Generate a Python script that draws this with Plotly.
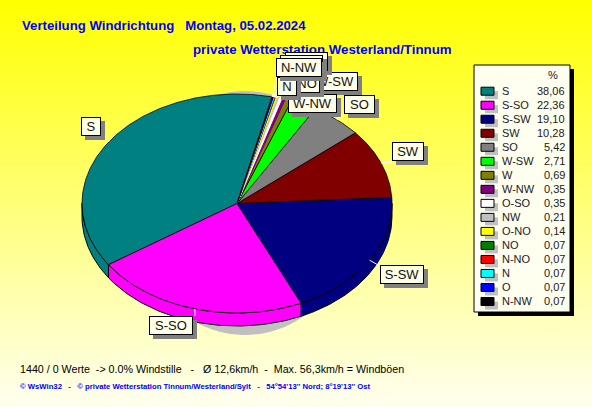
import numpy as np
import plotly.graph_objects as go

directions = ["S", "S-SO", "S-SW", "SW", "SO", "W-SW", "W", "W-NW", "O-SO", "NW", "O-NO", "NO", "N-NO", "N", "O", "N-NW"]
shares = [38.06, 22.36, 19.10, 10.28, 5.42, 2.71, 0.69, 0.35, 0.35, 0.21, 0.14, 0.07, 0.07, 0.07, 0.07, 0.07]
share_labels = ["38,06", "22,36", "19,10", "10,28", "5,42", "2,71", "0,69", "0,35", "0,35", "0,21", "0,14", "0,07", "0,07", "0,07", "0,07", "0,07"]
colors = ["#008080", "#FF00FF", "#000080", "#800000", "#808080", "#00FF00", "#808000", "#800080",
          "#FFFFFF", "#C0C0C0", "#FFFF00", "#008000", "#FF0000", "#00FFFF", "#0000FF", "#000000"]

# label boxes: left, top, width (pixels of the page)
label_boxes = {
    "S": (81, 117, 20), "S-SO": (149, 316, 44), "S-SW": (380, 265, 44), "SW": (392, 142, 32),
    "SO": (344, 95, 31), "W-SW": (312, 72, 46), "W": (297, 74, 20), "W-NW": (288, 94, 49),
    "O-SO": (285, 52, 43), "NW": (296, 58, 24), "O-NO": (280, 55, 43), "NO": (294, 74, 26),
    "N-NO": (284, 58, 38), "N": (277, 77, 20), "O": (290, 58, 20), "N-NW": (276, 58, 46),
}
label_anchor = {
    "S": (104, 138), "S-SO": (195, 316), "S-SW": (378, 265), "SW": (392, 162), "SO": (345, 113),
    "W-SW": (330, 90), "W": (310, 92), "W-NW": (288, 100), "O-SO": (300, 70), "NW": (300, 75),
    "O-NO": (290, 72), "NO": (296, 90), "N-NO": (285, 75), "N": (277, 90), "O": (290, 76), "N-NW": (277, 76),
}

CX, CY, RX, RY, DEPTH = 237, 203.5, 155, 109.5, 13
START = 77.0
W, H = 592, 407

fig = go.Figure()

# page background
fig.add_trace(go.Scatter(
    x=[0, W, W, 0, 0], y=[0, 0, H, H, 0], mode="none", fill="toself",
    fillgradient=dict(type="vertical", colorscale=[[0, "#FFFFF0"], [1, "#FFFF00"]]),
    hoverinfo="skip", showlegend=False))


def ell(a, r=1.0, dy=0.0):
    t = np.radians(a)
    return CX + RX * r * np.cos(t), CY + dy - RY * r * np.sin(t)


# drop shadow of the pie
t = np.linspace(0, 2 * np.pi, 241)
fig.add_trace(go.Scatter(x=245 + 110 * np.cos(t), y=213 + 122 * np.sin(t), mode="none", fill="toself",
                         fillcolor="#C0C0C0", hoverinfo="skip", showlegend=False))

spans = np.array(shares) / sum(shares) * 360
starts = START + np.concatenate([[0], np.cumsum(spans)[:-1]])

# side wall (only the front half of the disc)
for a0, sp, c in zip(starts, spans, colors):
    lo, hi = max(a0, 180), min(a0 + sp, 360)
    if hi <= lo:
        continue
    a = np.linspace(lo, hi, 80)
    x1, y1 = ell(a)
    x2, y2 = ell(a[::-1], dy=DEPTH)
    fig.add_trace(go.Scatter(x=np.r_[x1, x2, x1[0]], y=np.r_[y1, y2, y1[0]], mode="lines", fill="toself",
                             fillcolor=c, line=dict(color="black", width=1), hoverinfo="skip", showlegend=False))

# top surface; the very thin slices keep their own colour on the edge
for a0, sp, c in zip(starts, spans, colors):
    a = np.linspace(a0, a0 + sp, max(3, int(sp * 2)))
    x, y = ell(a)
    edge = dict(color="black", width=0.8) if sp > 2 else dict(color=c, width=1)
    fig.add_trace(go.Scatter(x=np.r_[CX, x, CX], y=np.r_[CY, y, CY], mode="lines", fill="toself",
                             fillcolor=c, line=edge, hoverinfo="skip", showlegend=False))

# leader lines from each slice to its label
for name, a0, sp in zip(directions, starts, spans):
    ex, ey = ell(a0 + sp / 2)
    ax, ay = label_anchor[name]
    fig.add_trace(go.Scatter(x=[ex, ax], y=[ey, ay], mode="lines", line=dict(color="white", width=1),
                             hoverinfo="skip", showlegend=False))

shapes = []
annotations = []


def text(x, y, s, size, color="black", bold=False, anchor="left", family="Liberation Sans"):
    annotations.append(dict(x=x, y=y, xref="x", yref="y", text=f"<b>{s}</b>" if bold else s, showarrow=False,
                            xanchor=anchor, yanchor="middle", align=anchor,
                            font=dict(family=family, size=size, color=color)))


def rect(x0, y0, x1, y1, fill, line=None):
    shapes.append(dict(type="rect", xref="x", yref="y", x0=x0, y0=y0, x1=x1, y1=y1, fillcolor=fill, layer="above",
                       line=dict(color=line or fill, width=1 if line else 0)))


# titles
text(20, 25, "Verteilung Windrichtung &nbsp; Montag, 05.02.2024", 13.2, "#0000FF", True)
text(191, 49, "private Wetterstation Westerland/Tinnum", 13.3, "#0000FF", True)

# slice labels: each a shadow box, then a cream box, in slice order
for name in directions:
    l, tp, w = label_boxes[name]
    annotations.append(dict(x=l + 4, y=tp + 4, xref="x", yref="y", text=" ", showarrow=False, xanchor="left",
                            yanchor="top", width=w, height=19, bgcolor="#808080", borderpad=0, borderwidth=0,
                            font=dict(size=10)))
    annotations.append(dict(x=l, y=tp, xref="x", yref="y", text=name, showarrow=False, xanchor="left", yanchor="top",
                            width=w - 2, height=17, bgcolor="#FFFFE8", bordercolor="black", borderwidth=1, borderpad=0,
                            align="center", valign="middle",
                            font=dict(family="Liberation Sans", size=13, color="#101010")))

# legend
rect(478, 69, 574, 316, "#000000")
rect(474, 65, 570, 312, "#FFFFF0", "#000000")
text(553, 75, "%", 11, "#202020", anchor="center")
for i, (name, lab, c) in enumerate(zip(directions, share_labels, colors)):
    yc = 90.7 + i * 14.02
    rect(485, yc + 0.5, 498, yc + 8.5, "#C0C0C0")
    rect(481, yc - 3.5, 494, yc + 4.5, c, "#000000")
    text(500, yc, name, 11, "#202020")
    text(567, yc, lab, 11, "#202020", anchor="right")

# footer
text(18, 369, "1440 / 0 Werte &nbsp;-&gt; 0.0% Windstille &nbsp; - &nbsp; Ø 12,6km/h &nbsp;- &nbsp;Max. 56,3km/h = Windböen", 10.7)
text(18, 386, "© WsWin32 &nbsp; - &nbsp; © private Wetterstation Tinnum/Westerland/Sylt &nbsp; - &nbsp; 54°54'13'' Nord; 8°19'13'' Ost",
     7.7, "#0000FF", True)

fig.update_layout(
    width=W, height=H, margin=dict(l=0, r=0, t=0, b=0), showlegend=False,
    paper_bgcolor="#FFFF80", plot_bgcolor="rgba(0,0,0,0)", shapes=shapes, annotations=annotations,
    xaxis=dict(range=[0, W], visible=False, fixedrange=True),
    yaxis=dict(range=[H, 0], visible=False, fixedrange=True),
)
fig.write_html("out.html", config={"displayModeBar": False},
               post_script="document.body.style.margin='0';document.documentElement.style.overflow='hidden';")
